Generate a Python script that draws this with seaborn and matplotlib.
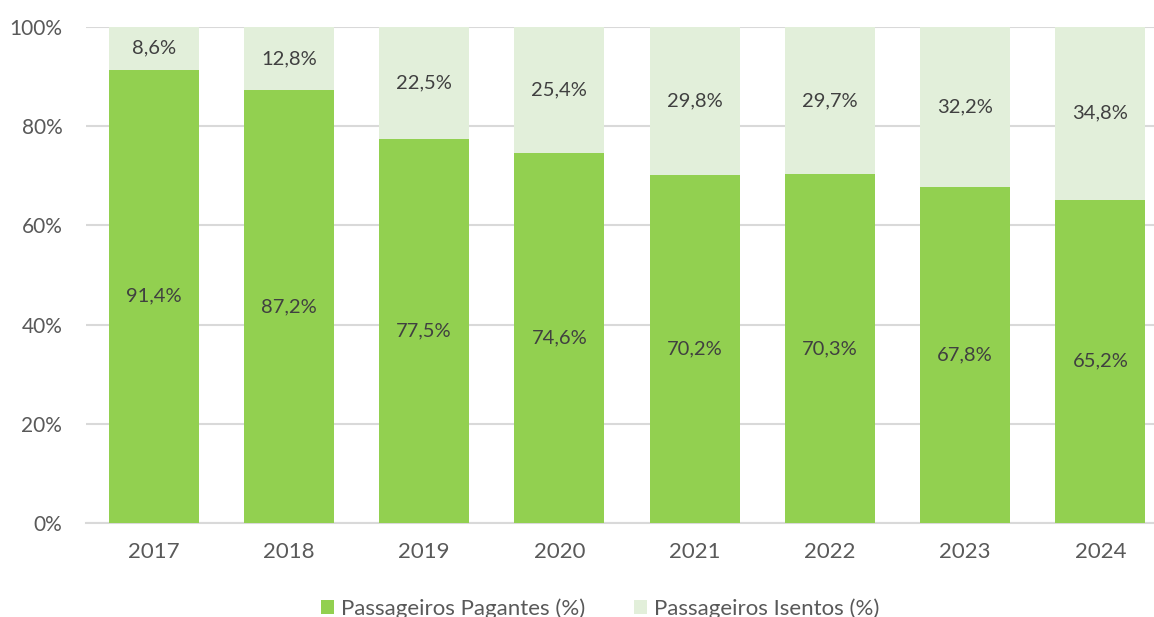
import numpy as np
import pandas as pd
import matplotlib
matplotlib.use("Agg")
import matplotlib.pyplot as plt
import seaborn as sns
from matplotlib.patches import Patch
from matplotlib.ticker import FuncFormatter

years = ["2017", "2018", "2019", "2020", "2021", "2022", "2023", "2024"]
pagantes = [91.4, 87.2, 77.5, 74.6, 70.2, 70.3, 67.8, 65.2]
isentos = [8.6, 12.8, 22.5, 25.4, 29.8, 29.7, 32.2, 34.8]

dark_green = "#92D050"
light_green = "#E2EFDA"

sns.set_style("white")
plt.rcParams['font.family'] = ['Lato', 'DejaVu Sans']

df = pd.DataFrame({"Ano": years, "Pagantes": pagantes, "Isentos": isentos})
df["Total"] = df["Pagantes"] + df["Isentos"]

fig = plt.figure(figsize=(11.54, 6.17), dpi=100)
ax = fig.add_axes([0.0745, 0.1524, 0.9376, 0.8039])

# stacked: full bar in light colour, paying part drawn over it
sns.barplot(data=df, x="Ano", y="Total", color=light_green, saturation=1,
            width=0.665, errorbar=None, linewidth=0, ax=ax, zorder=2)
sns.barplot(data=df, x="Ano", y="Pagantes", color=dark_green, saturation=1,
            width=0.665, errorbar=None, linewidth=0, ax=ax, zorder=3)

lab_col = "#404040"
for i, row in df.iterrows():
    ax.text(i, row["Pagantes"] / 2, f"{row['Pagantes']:.1f}%".replace(".", ","),
            ha="center", va="center", fontsize=14.5, color=lab_col, zorder=4)
    ax.text(i, row["Pagantes"] + row["Isentos"] / 2,
            f"{row['Isentos']:.1f}%".replace(".", ","),
            ha="center", va="center", fontsize=14.5, color=lab_col, zorder=4)

ax.set_xlim(-0.5, 7.5)
ax.set_ylim(0, 100)
ax.set_yticks(range(0, 101, 20))
ax.yaxis.set_major_formatter(FuncFormatter(lambda v, p: f"{v:.0f}%"))
ax.grid(axis="y", color="#D9D9D9", linewidth=1.5, zorder=0)
ax.set_axisbelow(True)
for s in ["top", "right", "left"]:
    ax.spines[s].set_visible(False)
ax.spines["bottom"].set_color("#D9D9D9")
ax.spines["bottom"].set_linewidth(1.5)
ax.tick_params(axis="y", length=0, pad=17, labelsize=15, labelcolor="#595959")
ax.tick_params(axis="x", length=0, pad=14, labelsize=16, labelcolor="#595959")
ax.set_xlabel("")
ax.set_ylabel("")

handles = [Patch(facecolor=dark_green, edgecolor="none"),
           Patch(facecolor=light_green, edgecolor="none")]
fig.legend(handles, ["Passageiros Pagantes (%)", "Passageiros Isentos (%)"],
           loc="center", bbox_to_anchor=(0.52, 0.014), ncol=2, frameon=False,
           fontsize=16, labelcolor="#595959", handlelength=0.6, handleheight=0.6,
           handletextpad=0.3, columnspacing=2.2)

fig.savefig("out.png", dpi=100)
